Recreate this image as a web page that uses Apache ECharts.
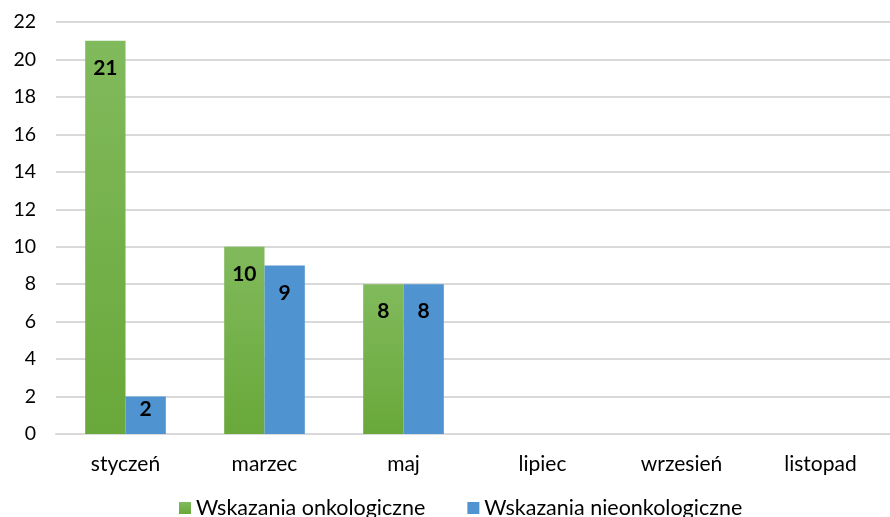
<!DOCTYPE html>
<html>
<head>
<meta charset="utf-8">
<script src="https://cdn.jsdelivr.net/npm/echarts@6/dist/echarts.min.js"></script>
<style>
  html, body { margin: 0; padding: 0; background: #fff; }
  #chart { width: 890px; height: 517px; }
</style>
</head>
<body>
<div id="chart"></div>
<script>
// dane wykresu
const categories = ['styczeń', 'marzec', 'maj', 'lipiec', 'wrzesień', 'listopad']
const onkoValues = [21, 10, 8, null, null, null]
const nieonkoValues = [2, 9, 8, null, null, null]
const seriesNames = ['Wskazania onkologiczne', 'Wskazania nieonkologiczne']

const chart = echarts.init(document.getElementById('chart'))

const labelStyle = {
  show: true,
  position: 'insideTop',
  distance: 17,
  color: '#000',
  fontFamily: 'Lato',
  fontWeight: 'bold',
  fontSize: 21
}

// niskie słupki - etykieta bliżej góry słupka (jak w Excelu)
const toBarData = (values) => values.map(v =>
  v !== null && v < 3 ? { value: v, label: { distance: 2 } } : v
)

chart.setOption({
  animation: false,
  textStyle: { fontFamily: 'Lato' },
  grid: { left: 56, right: 0, top: 22, bottom: 83 },
  legend: {
    bottom: -7,
    left: 174,
    itemWidth: 12,
    itemHeight: 12,
    itemGap: 42,
    icon: 'rect',
    textStyle: { fontFamily: 'Lato', fontSize: 21.5, color: '#000' },
    data: seriesNames
  },
  xAxis: {
    type: 'category',
    data: categories,
    axisLine: { show: true, lineStyle: { color: '#d9d9d9', width: 2 } },
    axisTick: { show: false },
    axisLabel: { color: '#000', fontSize: 21, fontFamily: 'Lato', margin: 20 }
  },
  yAxis: {
    type: 'value',
    min: 0,
    max: 22,
    interval: 2,
    axisLine: { show: false },
    axisTick: { show: false },
    axisLabel: { color: '#000', fontSize: 19.5, fontFamily: 'Lato', margin: 20 },
    splitLine: { lineStyle: { color: '#d9d9d9', width: 2 } }
  },
  series: [
    {
      name: seriesNames[0],
      type: 'bar',
      data: toBarData(onkoValues),
      barGap: '0%',
      barCategoryGap: '42%',
      itemStyle: {
        color: new echarts.graphic.LinearGradient(0, 0, 0, 1, [
          { offset: 0, color: '#81ba5c' },
          { offset: 1, color: '#69a83a' }
        ])
      },
      label: labelStyle
    },
    {
      name: seriesNames[1],
      type: 'bar',
      data: toBarData(nieonkoValues),
      itemStyle: { color: '#4f93d1' },
      label: labelStyle
    }
  ]
})
</script>
</body>
</html>
